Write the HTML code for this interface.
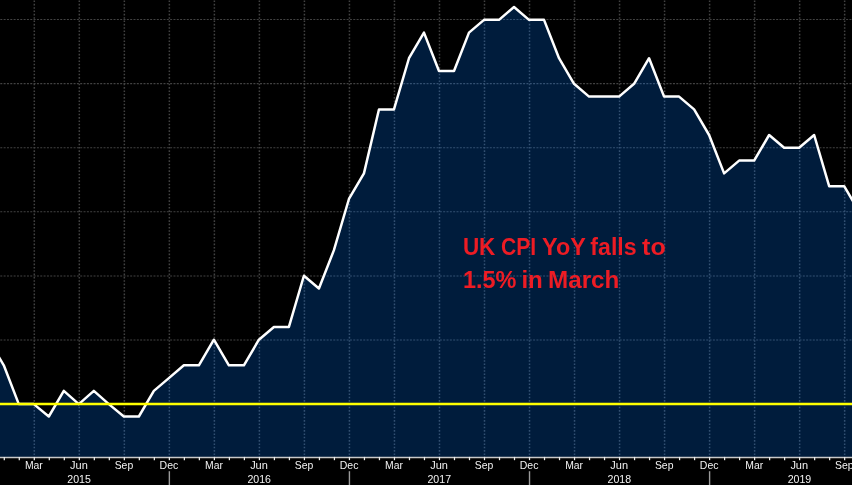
<!DOCTYPE html>
<html lang="en">
<head>
<meta charset="utf-8">
<title>UK CPI YoY</title>
<style>
html,body{margin:0;padding:0;background:#000;overflow:hidden;}
body{width:852px;height:485px;}
svg{display:block;}
.ax{font-family:"Liberation Sans",sans-serif;font-size:11px;fill:#f2f2f2;text-anchor:middle;}
.ttl{font-family:"Liberation Sans",sans-serif;font-weight:bold;font-size:23.5px;fill:#ed1c24;}
</style>
</head>
<body>
<svg width="852" height="485" viewBox="0 0 852 485">
<rect x="0" y="0" width="852" height="485" fill="#000"/>
<g stroke="#8c8c8c" fill="none" opacity="0.47">
<g stroke-width="1.5" stroke-dasharray="1.6 1.73">
<line x1="34.30" y1="0.5" x2="34.30" y2="457.40"/>
<line x1="79.32" y1="0.5" x2="79.32" y2="457.40"/>
<line x1="124.34" y1="0.5" x2="124.34" y2="457.40"/>
<line x1="169.36" y1="0.5" x2="169.36" y2="457.40"/>
<line x1="214.38" y1="0.5" x2="214.38" y2="457.40"/>
<line x1="259.40" y1="0.5" x2="259.40" y2="457.40"/>
<line x1="304.42" y1="0.5" x2="304.42" y2="457.40"/>
<line x1="349.44" y1="0.5" x2="349.44" y2="457.40"/>
<line x1="394.46" y1="0.5" x2="394.46" y2="457.40"/>
<line x1="439.48" y1="0.5" x2="439.48" y2="457.40"/>
<line x1="484.50" y1="0.5" x2="484.50" y2="457.40"/>
<line x1="529.52" y1="0.5" x2="529.52" y2="457.40"/>
<line x1="574.54" y1="0.5" x2="574.54" y2="457.40"/>
<line x1="619.56" y1="0.5" x2="619.56" y2="457.40"/>
<line x1="664.58" y1="0.5" x2="664.58" y2="457.40"/>
<line x1="709.60" y1="0.5" x2="709.60" y2="457.40"/>
<line x1="754.62" y1="0.5" x2="754.62" y2="457.40"/>
<line x1="799.64" y1="0.5" x2="799.64" y2="457.40"/>
<line x1="844.66" y1="0.5" x2="844.66" y2="457.40"/>
</g>
<g stroke-width="1.05" stroke-dasharray="2 1.33">
<line x1="0.3" y1="19.54" x2="852" y2="19.54"/>
<line x1="0.3" y1="83.64" x2="852" y2="83.64"/>
<line x1="0.3" y1="147.74" x2="852" y2="147.74"/>
<line x1="0.3" y1="211.84" x2="852" y2="211.84"/>
<line x1="0.3" y1="275.94" x2="852" y2="275.94"/>
<line x1="0.3" y1="340.04" x2="852" y2="340.04"/>
</g>
</g>
<path d="M-11.22,457.40 L-11.22,339.72 L3.79,365.31 L18.79,404.10 L33.80,404.10 L48.81,416.50 L63.81,390.90 L78.82,404.10 L93.83,390.90 L108.83,404.10 L123.84,416.50 L138.85,416.50 L153.85,390.90 L168.86,378.11 L183.87,365.31 L198.87,365.31 L213.88,339.72 L228.89,365.31 L243.89,365.31 L258.90,339.72 L273.91,326.93 L288.91,326.93 L303.92,275.75 L318.93,288.54 L333.93,250.16 L348.94,198.98 L363.95,173.39 L378.95,109.42 L393.96,109.42 L408.97,58.23 L423.97,32.64 L438.98,71.03 L453.99,71.03 L468.99,32.64 L484.00,19.85 L499.01,19.85 L514.01,7.05 L529.02,19.85 L544.03,19.85 L559.03,58.23 L574.04,83.82 L589.05,96.62 L604.05,96.62 L619.06,96.62 L634.07,83.82 L649.07,58.23 L664.08,96.62 L679.09,96.62 L694.09,109.42 L709.10,135.00 L724.11,173.39 L739.11,160.59 L754.12,160.59 L769.13,135.00 L784.13,147.80 L799.14,147.80 L814.15,135.00 L829.15,186.19 L844.16,186.19 L859.17,211.77 L859.17,457.40 Z" fill="#001c3c"/>
<clipPath id="ac"><path d="M-11.22,457.40 L-11.22,339.72 L3.79,365.31 L18.79,404.10 L33.80,404.10 L48.81,416.50 L63.81,390.90 L78.82,404.10 L93.83,390.90 L108.83,404.10 L123.84,416.50 L138.85,416.50 L153.85,390.90 L168.86,378.11 L183.87,365.31 L198.87,365.31 L213.88,339.72 L228.89,365.31 L243.89,365.31 L258.90,339.72 L273.91,326.93 L288.91,326.93 L303.92,275.75 L318.93,288.54 L333.93,250.16 L348.94,198.98 L363.95,173.39 L378.95,109.42 L393.96,109.42 L408.97,58.23 L423.97,32.64 L438.98,71.03 L453.99,71.03 L468.99,32.64 L484.00,19.85 L499.01,19.85 L514.01,7.05 L529.02,19.85 L544.03,19.85 L559.03,58.23 L574.04,83.82 L589.05,96.62 L604.05,96.62 L619.06,96.62 L634.07,83.82 L649.07,58.23 L664.08,96.62 L679.09,96.62 L694.09,109.42 L709.10,135.00 L724.11,173.39 L739.11,160.59 L754.12,160.59 L769.13,135.00 L784.13,147.80 L799.14,147.80 L814.15,135.00 L829.15,186.19 L844.16,186.19 L859.17,211.77 L859.17,457.40 Z"/></clipPath>
<g stroke="#7fa0c4" fill="none" opacity="0.4" clip-path="url(#ac)">
<g stroke-width="1.5" stroke-dasharray="1.6 1.73">
<line x1="34.30" y1="0.5" x2="34.30" y2="457.40"/>
<line x1="79.32" y1="0.5" x2="79.32" y2="457.40"/>
<line x1="124.34" y1="0.5" x2="124.34" y2="457.40"/>
<line x1="169.36" y1="0.5" x2="169.36" y2="457.40"/>
<line x1="214.38" y1="0.5" x2="214.38" y2="457.40"/>
<line x1="259.40" y1="0.5" x2="259.40" y2="457.40"/>
<line x1="304.42" y1="0.5" x2="304.42" y2="457.40"/>
<line x1="349.44" y1="0.5" x2="349.44" y2="457.40"/>
<line x1="394.46" y1="0.5" x2="394.46" y2="457.40"/>
<line x1="439.48" y1="0.5" x2="439.48" y2="457.40"/>
<line x1="484.50" y1="0.5" x2="484.50" y2="457.40"/>
<line x1="529.52" y1="0.5" x2="529.52" y2="457.40"/>
<line x1="574.54" y1="0.5" x2="574.54" y2="457.40"/>
<line x1="619.56" y1="0.5" x2="619.56" y2="457.40"/>
<line x1="664.58" y1="0.5" x2="664.58" y2="457.40"/>
<line x1="709.60" y1="0.5" x2="709.60" y2="457.40"/>
<line x1="754.62" y1="0.5" x2="754.62" y2="457.40"/>
<line x1="799.64" y1="0.5" x2="799.64" y2="457.40"/>
<line x1="844.66" y1="0.5" x2="844.66" y2="457.40"/>
</g>
<g stroke-width="1.05" stroke-dasharray="2 1.33">
<line x1="0.3" y1="19.54" x2="852" y2="19.54"/>
<line x1="0.3" y1="83.64" x2="852" y2="83.64"/>
<line x1="0.3" y1="147.74" x2="852" y2="147.74"/>
<line x1="0.3" y1="211.84" x2="852" y2="211.84"/>
<line x1="0.3" y1="275.94" x2="852" y2="275.94"/>
<line x1="0.3" y1="340.04" x2="852" y2="340.04"/>
</g>
</g>
<polyline points="-11.22,339.72 3.79,365.31 18.79,404.10 33.80,404.10 48.81,416.50 63.81,390.90 78.82,404.10 93.83,390.90 108.83,404.10 123.84,416.50 138.85,416.50 153.85,390.90 168.86,378.11 183.87,365.31 198.87,365.31 213.88,339.72 228.89,365.31 243.89,365.31 258.90,339.72 273.91,326.93 288.91,326.93 303.92,275.75 318.93,288.54 333.93,250.16 348.94,198.98 363.95,173.39 378.95,109.42 393.96,109.42 408.97,58.23 423.97,32.64 438.98,71.03 453.99,71.03 468.99,32.64 484.00,19.85 499.01,19.85 514.01,7.05 529.02,19.85 544.03,19.85 559.03,58.23 574.04,83.82 589.05,96.62 604.05,96.62 619.06,96.62 634.07,83.82 649.07,58.23 664.08,96.62 679.09,96.62 694.09,109.42 709.10,135.00 724.11,173.39 739.11,160.59 754.12,160.59 769.13,135.00 784.13,147.80 799.14,147.80 814.15,135.00 829.15,186.19 844.16,186.19 859.17,211.77" fill="none" stroke="#fff" stroke-width="2.5" stroke-linejoin="round" stroke-linecap="butt"/>
<line x1="0" y1="404.1" x2="852" y2="404.1" stroke="#ffff00" stroke-width="2.5"/>
<line x1="0" y1="457.40" x2="852" y2="457.40" stroke="#c8c8c8" stroke-width="1.5"/>
<g stroke="#ececec" stroke-width="1.25">
<line x1="4.29" y1="456.90" x2="4.29" y2="460.20"/>
<line x1="19.29" y1="456.90" x2="19.29" y2="460.20"/>
<line x1="34.30" y1="456.90" x2="34.30" y2="460.20"/>
<line x1="49.31" y1="456.90" x2="49.31" y2="460.20"/>
<line x1="64.31" y1="456.90" x2="64.31" y2="460.20"/>
<line x1="79.32" y1="456.90" x2="79.32" y2="460.20"/>
<line x1="94.33" y1="456.90" x2="94.33" y2="460.20"/>
<line x1="109.33" y1="456.90" x2="109.33" y2="460.20"/>
<line x1="124.34" y1="456.90" x2="124.34" y2="460.20"/>
<line x1="139.35" y1="456.90" x2="139.35" y2="460.20"/>
<line x1="154.35" y1="456.90" x2="154.35" y2="460.20"/>
<line x1="169.36" y1="456.90" x2="169.36" y2="460.20"/>
<line x1="184.37" y1="456.90" x2="184.37" y2="460.20"/>
<line x1="199.37" y1="456.90" x2="199.37" y2="460.20"/>
<line x1="214.38" y1="456.90" x2="214.38" y2="460.20"/>
<line x1="229.39" y1="456.90" x2="229.39" y2="460.20"/>
<line x1="244.39" y1="456.90" x2="244.39" y2="460.20"/>
<line x1="259.40" y1="456.90" x2="259.40" y2="460.20"/>
<line x1="274.41" y1="456.90" x2="274.41" y2="460.20"/>
<line x1="289.41" y1="456.90" x2="289.41" y2="460.20"/>
<line x1="304.42" y1="456.90" x2="304.42" y2="460.20"/>
<line x1="319.43" y1="456.90" x2="319.43" y2="460.20"/>
<line x1="334.43" y1="456.90" x2="334.43" y2="460.20"/>
<line x1="349.44" y1="456.90" x2="349.44" y2="460.20"/>
<line x1="364.45" y1="456.90" x2="364.45" y2="460.20"/>
<line x1="379.45" y1="456.90" x2="379.45" y2="460.20"/>
<line x1="394.46" y1="456.90" x2="394.46" y2="460.20"/>
<line x1="409.47" y1="456.90" x2="409.47" y2="460.20"/>
<line x1="424.47" y1="456.90" x2="424.47" y2="460.20"/>
<line x1="439.48" y1="456.90" x2="439.48" y2="460.20"/>
<line x1="454.49" y1="456.90" x2="454.49" y2="460.20"/>
<line x1="469.49" y1="456.90" x2="469.49" y2="460.20"/>
<line x1="484.50" y1="456.90" x2="484.50" y2="460.20"/>
<line x1="499.51" y1="456.90" x2="499.51" y2="460.20"/>
<line x1="514.51" y1="456.90" x2="514.51" y2="460.20"/>
<line x1="529.52" y1="456.90" x2="529.52" y2="460.20"/>
<line x1="544.53" y1="456.90" x2="544.53" y2="460.20"/>
<line x1="559.53" y1="456.90" x2="559.53" y2="460.20"/>
<line x1="574.54" y1="456.90" x2="574.54" y2="460.20"/>
<line x1="589.55" y1="456.90" x2="589.55" y2="460.20"/>
<line x1="604.55" y1="456.90" x2="604.55" y2="460.20"/>
<line x1="619.56" y1="456.90" x2="619.56" y2="460.20"/>
<line x1="634.57" y1="456.90" x2="634.57" y2="460.20"/>
<line x1="649.57" y1="456.90" x2="649.57" y2="460.20"/>
<line x1="664.58" y1="456.90" x2="664.58" y2="460.20"/>
<line x1="679.59" y1="456.90" x2="679.59" y2="460.20"/>
<line x1="694.59" y1="456.90" x2="694.59" y2="460.20"/>
<line x1="709.60" y1="456.90" x2="709.60" y2="460.20"/>
<line x1="724.61" y1="456.90" x2="724.61" y2="460.20"/>
<line x1="739.61" y1="456.90" x2="739.61" y2="460.20"/>
<line x1="754.62" y1="456.90" x2="754.62" y2="460.20"/>
<line x1="769.63" y1="456.90" x2="769.63" y2="460.20"/>
<line x1="784.63" y1="456.90" x2="784.63" y2="460.20"/>
<line x1="799.64" y1="456.90" x2="799.64" y2="460.20"/>
<line x1="814.65" y1="456.90" x2="814.65" y2="460.20"/>
<line x1="829.65" y1="456.90" x2="829.65" y2="460.20"/>
<line x1="844.66" y1="456.90" x2="844.66" y2="460.20"/>
<line x1="859.67" y1="456.90" x2="859.67" y2="460.20"/>
</g>
<g stroke="#9a9a9a" stroke-width="1.4">
<line x1="169.36" y1="471.2" x2="169.36" y2="485"/>
<line x1="349.44" y1="471.2" x2="349.44" y2="485"/>
<line x1="529.52" y1="471.2" x2="529.52" y2="485"/>
<line x1="709.60" y1="471.2" x2="709.60" y2="485"/>
</g>
<g class="ax">
<text x="33.90" y="469" textLength="17.90" lengthAdjust="spacingAndGlyphs">Mar</text>
<text x="78.92" y="469" textLength="17.73" lengthAdjust="spacingAndGlyphs">Jun</text>
<text x="123.94" y="469" textLength="18.50" lengthAdjust="spacingAndGlyphs">Sep</text>
<text x="168.96" y="469" textLength="18.70" lengthAdjust="spacingAndGlyphs">Dec</text>
<text x="213.98" y="469" textLength="17.90" lengthAdjust="spacingAndGlyphs">Mar</text>
<text x="259.00" y="469" textLength="17.73" lengthAdjust="spacingAndGlyphs">Jun</text>
<text x="304.02" y="469" textLength="18.50" lengthAdjust="spacingAndGlyphs">Sep</text>
<text x="349.04" y="469" textLength="18.70" lengthAdjust="spacingAndGlyphs">Dec</text>
<text x="394.06" y="469" textLength="17.90" lengthAdjust="spacingAndGlyphs">Mar</text>
<text x="439.08" y="469" textLength="17.73" lengthAdjust="spacingAndGlyphs">Jun</text>
<text x="484.10" y="469" textLength="18.50" lengthAdjust="spacingAndGlyphs">Sep</text>
<text x="529.12" y="469" textLength="18.70" lengthAdjust="spacingAndGlyphs">Dec</text>
<text x="574.14" y="469" textLength="17.90" lengthAdjust="spacingAndGlyphs">Mar</text>
<text x="619.16" y="469" textLength="17.73" lengthAdjust="spacingAndGlyphs">Jun</text>
<text x="664.18" y="469" textLength="18.50" lengthAdjust="spacingAndGlyphs">Sep</text>
<text x="709.20" y="469" textLength="18.70" lengthAdjust="spacingAndGlyphs">Dec</text>
<text x="754.22" y="469" textLength="17.90" lengthAdjust="spacingAndGlyphs">Mar</text>
<text x="799.24" y="469" textLength="17.73" lengthAdjust="spacingAndGlyphs">Jun</text>
<text x="844.26" y="469" textLength="18.50" lengthAdjust="spacingAndGlyphs">Sep</text>
<text x="79.12" y="482.5" textLength="23.6" lengthAdjust="spacingAndGlyphs">2015</text>
<text x="259.20" y="482.5" textLength="23.6" lengthAdjust="spacingAndGlyphs">2016</text>
<text x="439.28" y="482.5" textLength="23.6" lengthAdjust="spacingAndGlyphs">2017</text>
<text x="619.36" y="482.5" textLength="23.6" lengthAdjust="spacingAndGlyphs">2018</text>
<text x="799.44" y="482.5" textLength="23.6" lengthAdjust="spacingAndGlyphs">2019</text>
</g>
<text class="ttl" y="255.00"><tspan x="462.88" textLength="32.51" lengthAdjust="spacingAndGlyphs">UK</tspan> <tspan x="500.91" textLength="35.16" lengthAdjust="spacingAndGlyphs">CPI</tspan> <tspan x="542.08" textLength="43.38" lengthAdjust="spacingAndGlyphs">YoY</tspan> <tspan x="590.36" textLength="46.27" lengthAdjust="spacingAndGlyphs">falls</tspan> <tspan x="642.08" textLength="23.68" lengthAdjust="spacingAndGlyphs">to</tspan></text>
<text class="ttl" y="287.50"><tspan x="462.90" textLength="53.45" lengthAdjust="spacingAndGlyphs">1.5%</tspan> <tspan x="521.41" textLength="21.44" lengthAdjust="spacingAndGlyphs">in</tspan> <tspan x="548.01" textLength="71.40" lengthAdjust="spacingAndGlyphs">March</tspan></text>
</svg>
</body>
</html>
